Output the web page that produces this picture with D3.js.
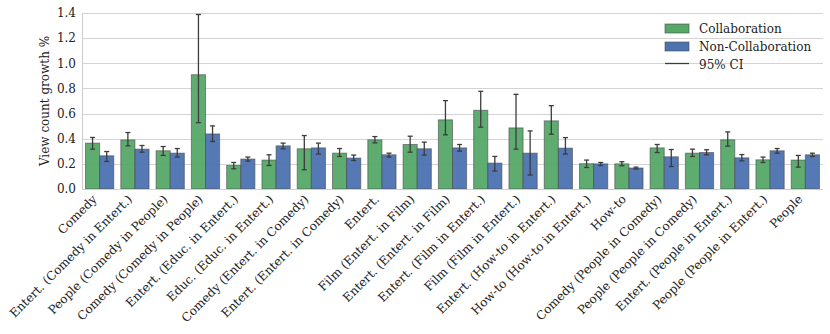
<!DOCTYPE html>
<html>
<head>
<meta charset="utf-8">
<script src="https://cdnjs.cloudflare.com/ajax/libs/d3/7.8.5/d3.min.js"></script>
<style>
  body { margin: 0; background: #fff; }
  text { font-family: "DejaVu Serif", serif; fill: #222; }
</style>
</head>
<body>
<div id="vis-parent"></div>
<script>
// Categories
var categories = [
  'Comedy', 'Entert. (Comedy in Entert.)', 'People (Comedy in People)', 'Comedy (Comedy in People)',
  'Entert. (Educ. in Entert.)', 'Educ. (Educ. in Entert.)', 'Comedy (Entert. in Comedy)',
  'Entert. (Entert. in Comedy)', 'Entert.', 'Film (Entert. in Film)', 'Entert. (Entert. in Film)',
  'Entert. (Film in Entert.)', 'Film (Film in Entert.)', 'Entert. (How-to in Entert.)',
  'How-to (How-to in Entert.)', 'How-to', 'Comedy (People in Comedy)', 'People (People in Comedy)',
  'Entert. (People in Entert.)', 'People (People in Entert.)', 'People'
];

// Collaboration: mean, CI low, CI high
var collab     = [0.365, 0.390, 0.304, 0.909, 0.187, 0.230, 0.320, 0.285, 0.391, 0.354, 0.550,
                  0.626, 0.486, 0.542, 0.201, 0.200, 0.327, 0.285, 0.391, 0.232, 0.230];
var collabLo   = [0.317, 0.343, 0.267, 0.528, 0.161, 0.187, 0.153, 0.259, 0.367, 0.293, 0.431,
                  0.492, 0.317, 0.436, 0.171, 0.185, 0.290, 0.259, 0.341, 0.211, 0.174];
var collabHi   = [0.410, 0.449, 0.338, 1.388, 0.211, 0.272, 0.425, 0.322, 0.417, 0.420, 0.703,
                  0.777, 0.753, 0.663, 0.230, 0.217, 0.354, 0.317, 0.454, 0.254, 0.267];

// Non-collaboration: mean, CI low, CI high
var nonCollab   = [0.264, 0.317, 0.285, 0.438, 0.238, 0.343, 0.327, 0.246, 0.272, 0.320, 0.327,
                   0.206, 0.285, 0.325, 0.200, 0.167, 0.256, 0.290, 0.248, 0.304, 0.272];
var nonCollabLo = [0.219, 0.293, 0.254, 0.378, 0.222, 0.320, 0.278, 0.227, 0.254, 0.270, 0.301,
                   0.143, 0.111, 0.278, 0.187, 0.159, 0.179, 0.272, 0.224, 0.285, 0.259];
var nonCollabHi = [0.298, 0.346, 0.322, 0.502, 0.254, 0.365, 0.365, 0.270, 0.285, 0.373, 0.354,
                   0.259, 0.462, 0.409, 0.211, 0.174, 0.314, 0.312, 0.274, 0.322, 0.285];

var yTicks = [0.0, 0.2, 0.4, 0.6, 0.8, 1.0, 1.2, 1.4];
var seriesNames = ['Collaboration', 'Non-Collaboration'];
var seriesColors = ['#55a868', '#4c72b0'];

// Chart size
var width = 830, height = 334,
    margin = { top: 13, right: 7, bottom: 145, left: 82 },
    innerW = width - margin.left - margin.right,
    innerH = height - margin.top - margin.bottom,
    fontSize = '12px';

// Build rows for drawing
var rows = categories.map(function(c, i) {
  return {
    cat: c,
    values: [
      { s: 0, v: collab[i], lo: collabLo[i], hi: collabHi[i] },
      { s: 1, v: nonCollab[i], lo: nonCollabLo[i], hi: nonCollabHi[i] }
    ]
  };
});

// Scales
var x = d3.scaleBand()
  .domain(categories)
  .range([0, innerW])
  .paddingInner(0.2)
  .paddingOuter(0.1);

var xSub = d3.scaleBand()
  .domain([0, 1])
  .range([0, x.bandwidth()]);

var y = d3.scaleLinear()
  .domain([0, 1.4])
  .range([innerH, 0]);

var svg = d3.select('#vis-parent').append('svg')
  .attr('width', width)
  .attr('height', height);

var g = svg.append('g')
  .attr('transform', 'translate(' + margin.left + ',' + margin.top + ')');

// Horizontal grid
g.append('g')
  .selectAll('line')
  .data(yTicks).enter()
  .append('line')
    .attr('x1', 0)
    .attr('x2', innerW)
    .attr('y1', function(d) { return Math.round(y(d)) + 0.5; })
    .attr('y2', function(d) { return Math.round(y(d)) + 0.5; })
    .attr('stroke', '#d4d4d4')
    .attr('stroke-width', 1.2);

// Left spine
g.append('line')
  .attr('x1', 0.5).attr('x2', 0.5)
  .attr('y1', 0).attr('y2', innerH)
  .attr('stroke', '#cfcfcf').attr('stroke-width', 1.2);

// Y axis
var yAxis = g.append('g')
  .call(d3.axisLeft(y).tickValues(yTicks).tickSize(0).tickPadding(6).tickFormat(d3.format('.1f')));
yAxis.select('.domain').remove();
yAxis.selectAll('text')
  .style('font-family', '"DejaVu Serif", serif')
  .style('font-size', fontSize)
  .attr('fill', '#222');

// Y label
svg.append('text')
  .attr('transform', 'translate(49,' + (margin.top + innerH / 2) + ') rotate(-90)')
  .attr('text-anchor', 'middle')
  .style('font-size', fontSize)
  .text('View count growth %');

// Groups
var groups = g.selectAll('.grp')
  .data(rows).enter()
  .append('g')
    .attr('class', 'grp')
    .attr('transform', function(d) { return 'translate(' + x(d.cat) + ',0)'; });

// Bars
groups.selectAll('rect')
  .data(function(d) { return d.values; }).enter()
  .append('rect')
    .attr('x', function(d) { return xSub(d.s); })
    .attr('y', function(d) { return y(d.v); })
    .attr('width', xSub.bandwidth())
    .attr('height', function(d) { return innerH - y(d.v); })
    .attr('fill', function(d) { return seriesColors[d.s]; })
    .attr('fill-opacity', 0.95)
    .attr('stroke', '#4a4a4a')
    .attr('stroke-opacity', 0.6)
    .attr('stroke-width', 1);

// Error bars
var err = groups.selectAll('.err')
  .data(function(d) { return d.values; }).enter()
  .append('g')
    .attr('class', 'err')
    .attr('transform', function(d) { return 'translate(' + (xSub(d.s) + xSub.bandwidth() / 2) + ',0)'; })
    .attr('stroke', '#3c3c3c')
    .attr('stroke-width', 1.3);

err.append('line')
  .attr('y1', function(d) { return y(d.lo); })
  .attr('y2', function(d) { return y(d.hi); });

err.append('line')
  .attr('x1', -2.5).attr('x2', 2.5)
  .attr('y1', function(d) { return y(d.lo); })
  .attr('y2', function(d) { return y(d.lo); });

err.append('line')
  .attr('x1', -2.5).attr('x2', 2.5)
  .attr('y1', function(d) { return y(d.hi); })
  .attr('y2', function(d) { return y(d.hi); });

// Bottom spine
g.append('line')
  .attr('x1', 0).attr('x2', innerW)
  .attr('y1', innerH + 0.5).attr('y2', innerH + 0.5)
  .attr('stroke', '#cfcfcf').attr('stroke-width', 1.2);

// X labels, rotated
g.append('g')
  .selectAll('text')
  .data(categories).enter()
  .append('text')
    .attr('text-anchor', 'end')
    .style('font-size', fontSize)
    .attr('transform', function(d) {
      return 'translate(' + (x(d) + x.bandwidth() / 2 - 2) + ',' + (innerH + 11) + ') rotate(-45)';
    })
    .text(function(d) { return d; });

// Legend
var legend = svg.append('g')
  .attr('transform', 'translate(665,24)');

seriesNames.forEach(function(name, i) {
  legend.append('rect')
    .attr('x', 0).attr('y', i * 18)
    .attr('width', 24).attr('height', 9)
    .attr('fill', seriesColors[i])
    .attr('stroke', '#4a4a4a').attr('stroke-opacity', 0.6);
  legend.append('text')
    .attr('x', 34).attr('y', i * 18 + 9)
    .style('font-size', fontSize)
    .text(name);
});

legend.append('line')
  .attr('x1', 0).attr('x2', 24)
  .attr('y1', 39.5).attr('y2', 39.5)
  .attr('stroke', '#3c3c3c').attr('stroke-width', 1.3);
legend.append('text')
  .attr('x', 34).attr('y', 45)
  .style('font-size', fontSize)
  .text('95% CI');
</script>
</body>
</html>
